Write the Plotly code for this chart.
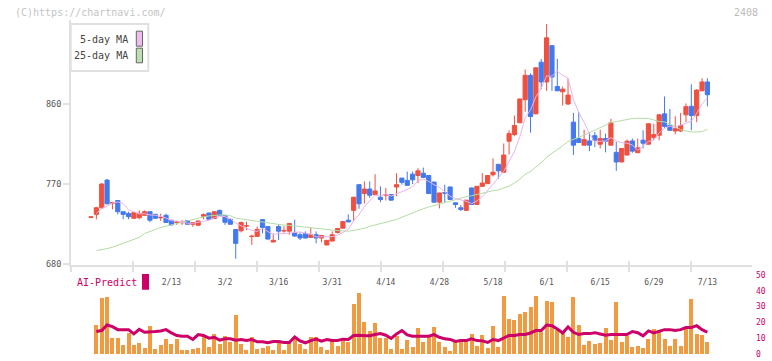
import plotly.graph_objects as go

# ---------------- data ----------------
open_ = [732.6, 735.9, 743.3, 774.4, 748.5, 751.5, 738.9, 737.0, 731.5, 732.2,
         734.8, 738.9, 735.9, 732.0, 734.8, 729.3, 726.8, 726.5, 728.9, 724.8,
         723.7, 733.7, 737.4, 731.1, 740.4, 734.8, 730.4, 718.9, 717.4, 722.8,
         710.9, 711.1, 730.0, 722.2, 704.8, 722.2, 717.2, 717.0, 715.6, 713.0,
         714.4, 710.0, 713.0, 709.3, 701.5, 705.9, 715.6, 720.4, 729.3, 740.4,
         769.3, 759.3, 764.4, 758.1, 755.2, 757.6, 758.1, 766.7, 776.7, 774.1,
         781.1, 779.6, 782.2, 779.6, 772.2, 749.6, 760.2, 766.7, 748.9, 743.3,
         740.4, 765.6, 747.0, 767.4, 770.4, 780.4, 792.2, 783.3, 818.1, 825.6,
         838.9, 864.8, 892.2, 848.9, 907.0, 884.8, 925.6, 879.6, 873.7, 860.0,
         839.6, 821.1, 813.7, 818.5, 824.4, 814.8, 821.1, 813.7, 805.6, 794.8,
         802.6, 818.5, 805.2, 819.3, 814.8, 822.2, 824.8, 848.9, 835.9, 829.6,
         829.6, 847.8, 857.4, 847.0, 874.8, 884.8]
high = [733.8, 744.4, 771.0, 775.6, 750.0, 752.0, 739.0, 738.9, 738.5, 740.4,
        740.4, 739.5, 736.5, 736.7, 736.7, 729.5, 728.5, 729.3, 729.3, 726.7,
        728.8, 737.0, 737.8, 739.3, 741.0, 735.0, 731.0, 719.0, 727.8, 727.8,
        713.0, 722.2, 730.0, 722.5, 714.4, 724.8, 722.6, 725.6, 730.0, 715.6,
        716.7, 721.1, 716.7, 712.3, 707.0, 716.7, 720.3, 728.0, 735.9, 755.2,
        769.3, 773.0, 773.0, 781.1, 767.4, 765.6, 758.5, 782.2, 776.7, 784.0,
        784.0, 787.8, 788.5, 780.0, 772.5, 760.0, 769.3, 767.0, 749.0, 746.3,
        752.0, 766.0, 767.7, 782.2, 780.0, 798.9, 792.5, 815.6, 830.4, 847.0,
        866.0, 898.9, 894.5, 901.0, 910.7, 950.0, 925.6, 910.7, 879.6, 888.5,
        850.0, 850.7, 831.1, 828.5, 828.5, 831.1, 826.7, 843.3, 817.4, 810.2,
        820.0, 821.1, 821.1, 830.4, 838.0, 837.8, 848.9, 868.5, 854.4, 846.3,
        850.0, 860.7, 882.2, 876.7, 888.9, 888.9]
low = [732.0, 730.4, 742.2, 747.0, 741.5, 735.9, 730.4, 730.4, 731.0, 730.4,
       734.0, 727.0, 731.0, 728.5, 726.7, 723.5, 724.1, 724.1, 724.5, 721.9,
       723.3, 730.4, 730.0, 730.7, 734.5, 724.1, 724.4, 686.0, 715.6, 718.1,
       701.5, 711.0, 714.4, 707.8, 704.8, 707.0, 715.2, 713.0, 710.7, 707.0,
       709.0, 709.3, 703.3, 704.4, 701.0, 705.5, 714.4, 720.0, 727.0, 728.5,
       742.2, 748.1, 754.4, 758.0, 749.6, 751.5, 751.5, 756.3, 769.3, 768.5,
       770.0, 771.1, 777.4, 759.0, 749.3, 742.6, 749.6, 752.0, 743.3, 739.6,
       740.0, 746.7, 746.7, 767.0, 770.0, 778.5, 775.9, 783.0, 803.4, 823.7,
       838.5, 851.5, 827.8, 848.5, 876.7, 874.8, 874.8, 874.8, 858.2, 858.9,
       802.6, 816.5, 813.5, 807.0, 811.5, 810.0, 805.6, 813.5, 784.8, 794.5,
       802.5, 805.2, 805.0, 810.0, 814.5, 819.3, 819.3, 833.3, 830.2, 825.9,
       828.5, 839.6, 830.4, 839.6, 874.8, 857.4]
close = [733.0, 743.3, 770.0, 747.8, 749.0, 738.9, 735.9, 733.3, 737.8, 737.0,
         738.9, 729.3, 731.5, 732.5, 726.7, 724.1, 727.2, 726.9, 724.8, 726.7,
         728.5, 735.6, 730.4, 738.9, 734.8, 727.0, 724.8, 703.3, 726.7, 723.2,
         711.3, 718.9, 721.1, 708.1, 706.7, 717.0, 717.6, 725.6, 711.5, 709.3,
         709.3, 713.0, 709.3, 712.2, 706.7, 713.0, 720.0, 727.8, 727.4, 755.2,
         747.8, 764.4, 757.4, 762.2, 752.6, 758.0, 751.9, 769.3, 771.9, 768.5,
         774.8, 784.8, 777.4, 759.3, 749.6, 760.0, 759.8, 752.6, 747.0, 741.5,
         751.9, 747.0, 767.4, 771.1, 779.6, 783.3, 784.8, 802.6, 826.7, 835.9,
         865.6, 892.2, 845.9, 900.7, 884.8, 934.4, 890.4, 874.8, 876.7, 870.0,
         813.7, 816.7, 820.0, 813.7, 819.3, 821.1, 818.1, 838.9, 794.8, 810.0,
         818.1, 807.0, 810.7, 815.9, 837.8, 825.6, 847.8, 834.8, 830.4, 832.2,
         835.9, 857.0, 847.0, 875.6, 884.8, 870.4]

ma5_head = [None, 737.0, 742.5, 745.0]
ma25_head = [None, 695.2, 695.9, 697.4, 698.9, 701.1, 702.6, 704.8, 707.0,
             710.0, 714.4, 716.3, 718.9, 721.1, 722.6, 724.1, 726.3, 727.8,
             728.9, 730.4, 731.5, 733.0, 734.1, 734.8]

volume = [None, 18.3, 35.2, 35.8, 10.0, 10.0, 5.8, 13.1, 5.8, 6.9,
          3.75, 17.7, 3.1, 5.8, 9.4, 6.5, 9.4, 2.5, 2.5, 3.1,
          3.75, 11.25, 4.4, 12.5, 6.25, 11.25, 7.5, 24.4, 6.25, 2.5,
          10.6, 3.1, 3.75, 5.0, 2.5, 6.9, 2.5, 6.9, 10.0, 6.25,
          3.1, 10.6, 10.6, 4.4, 2.5, 8.1, 5.0, 9.4, 7.5, 31.9,
          38.75, 20.0, 14.4, 19.4, 10.0, 10.0, 3.1, 11.25, 3.1, 8.75,
          4.4, 16.25, 7.5, 10.6, 16.9, 7.5, 4.4, 1.9, 7.5, 8.1,
          8.75, 12.5, 5.0, 11.9, 3.75, 17.5, 4.4, 36.9, 21.9, 21.25,
          25.6, 26.9, 30.0, 36.9, 13.75, 33.75, 33.1, 15.0, 14.4, 10.6,
          36.25, 18.1, 5.6, 8.1, 6.25, 6.9, 16.25, 8.75, 33.1, 7.5,
          11.25, 4.4, 5.0, 3.75, 9.4, 15.6, 13.75, 9.4, 5.0, 9.4,
          5.0, 15.6, 35.0, 12.5, 11.9, 7.5]

ai_predict = [None, 14.2, 14.8, 18.3, 17.3, 15.4, 15.4, 15.4, 12.7, 15.6,
              13.75, 14.2, 14.2, 14.6, 15.4, 13.3, 11.7, 11.25, 11.25, 9.2,
              12.3, 11.7, 10.0, 10.6, 8.75, 9.6, 9.6, 8.75, 9.2, 8.5,
              9.2, 7.7, 7.7, 7.1, 7.9, 7.9, 7.3, 7.3, 10.8, 8.3,
              7.1, 8.5, 9.4, 8.1, 9.2, 8.5, 8.5, 9.4, 9.2, 11.7,
              11.9, 11.5, 11.5, 12.3, 12.9, 11.9, 9.8, 12.7, 14.8, 12.1,
              11.25, 11.25, 11.25, 11.25, 12.3, 10.6, 9.6, 9.2, 7.9, 8.5,
              8.5, 9.6, 8.5, 8.3, 7.3, 9.2, 8.5, 10.2, 11.7, 11.7,
              12.3, 12.3, 13.3, 14.8, 14.8, 18.3, 17.9, 15.8, 13.3, 17.1,
              13.75, 12.3, 12.9, 12.9, 13.5, 12.7, 11.9, 12.3, 12.3, 12.3,
              12.3, 14.2, 13.5, 11.5, 14.6, 13.3, 14.2, 15.4, 15.4, 14.8,
              15.4, 16.7, 16.7, 17.9, 15.4, 13.75]

tick_labels = ["2/13", "3/2", "3/16", "3/31", "4/14", "4/28",
               "5/18", "6/1", "6/15", "6/29", "7/13"]
tick_pos = [16, 26, 36, 46, 56, 66, 76, 86, 96, 106, 116]
price_ticks = [680, 770, 860]
ai_ticks = [0, 10, 20, 30, 40, 50]

# ---------------- derived ----------------
n = len(close)
idx = list(range(1, n + 1))


def rolling(vals, w, head):
    out = list(head)
    for i in range(len(head), len(vals)):
        out.append(sum(vals[i - w + 1:i + 1]) / w)
    return out


ma5 = rolling(close, 5, ma5_head)
ma25 = rolling(close, 25, ma25_head)

# ---------------- layout geometry ----------------
W, H = 772, 361
L, R, T, B = 71, 20, 20, 3
PW, PH = W - L - R, H - T - B
step = 5.36          # px per trading day
first_px = 91        # px of first candle
xr = [1 - (first_px - L) / step, 1 + (W - R - first_px) / step]
grid_dtick = 62 / step
pscale = 0.9         # px per price unit
yr = [680 - (268 - 267) / pscale, 860 + (105 - T) / pscale]


def fx(px):
    return (px - L) / PW


def fy(py):
    return (H - B - py) / PH


FONT = "DejaVu Sans Mono"
RED, BLUE = "#ef5040", "#4479ee"
AXC = "#e0e0e0"

fig = go.Figure()

fig.add_trace(go.Scatter(x=idx, y=ma25, mode="lines", line=dict(color="#b4dca4", width=1),
                         xaxis="x", yaxis="y", hoverinfo="skip", showlegend=False))
fig.add_trace(go.Scatter(x=idx, y=ma5, mode="lines", line=dict(color="#ebb4eb", width=1),
                         xaxis="x", yaxis="y", hoverinfo="skip", showlegend=False))
fig.add_trace(go.Candlestick(
    x=idx, open=open_, high=high, low=low, close=close,
    increasing=dict(line=dict(color=RED, width=1), fillcolor=RED),
    decreasing=dict(line=dict(color=BLUE, width=1), fillcolor=BLUE),
    whiskerwidth=0, xaxis="x", yaxis="y", showlegend=False))
# helper trace so the overlay tick axis is drawn
fig.add_trace(go.Scatter(x=[idx[0]], y=[close[0]], mode="markers", marker=dict(opacity=0),
                         xaxis="x3", yaxis="y", hoverinfo="skip", showlegend=False))

fig.add_trace(go.Bar(x=idx, y=volume, width=0.75, marker=dict(color="#f29a40", line=dict(width=0)),
                     xaxis="x2", yaxis="y2", hoverinfo="skip", showlegend=False))
fig.add_trace(go.Scatter(x=idx, y=ai_predict, mode="lines", line=dict(color="#cc0066", width=3),
                         xaxis="x2", yaxis="y2", hoverinfo="skip", showlegend=False))

fig.update_layout(
    width=W, height=H, margin=dict(l=L, r=R, t=T, b=B),
    paper_bgcolor="white", plot_bgcolor="white",
    font=dict(family=FONT, size=9, color="#555"),
    boxgap=0.22, boxgroupgap=0, bargap=0,
    showlegend=False,
    xaxis=dict(domain=[0, 1], range=xr, anchor="y",
               showline=True, linecolor=AXC, linewidth=2,
               tickmode="array", tickvals=tick_pos, ticktext=tick_labels,
               ticks="", ticklabelstandoff=8,
               tickfont=dict(family=FONT, size=8, color="#555"),
               minor=dict(tickmode="linear", tick0=xr[0], dtick=grid_dtick, ticks="outside",
                          ticklen=5, tickwidth=2, tickcolor=AXC, showgrid=False),
               showgrid=False, zeroline=False, rangeslider=dict(visible=False), fixedrange=True),
    xaxis3=dict(overlaying="x", anchor="y", range=xr, tickmode="linear", tick0=xr[0],
                dtick=grid_dtick, ticks="inside", ticklen=4, tickwidth=2, tickcolor=AXC,
                showticklabels=False, showline=False, showgrid=False, zeroline=False),
    yaxis=dict(domain=[fy(268), fy(T)], range=yr, anchor="x",
               showline=True, linecolor=AXC, linewidth=2,
               tickvals=price_ticks, ticks="outside", ticklen=6, tickwidth=2, tickcolor=AXC,
               tickfont=dict(family=FONT, size=8.5, color="#555"),
               showgrid=False, zeroline=False, fixedrange=True),
    xaxis2=dict(domain=[0, 1], range=xr, anchor="y2", visible=False),
    yaxis2=dict(domain=[fy(358), fy(278)], range=[0, 50], anchor="x2", side="right",
                tickvals=ai_ticks, ticks="", showline=False, showgrid=False, zeroline=False,
                ticklabelstandoff=3,
                tickfont=dict(family=FONT, size=8, color="#cc0066")),
)

# legend box and swatches
shapes = [
    dict(type="rect", xref="paper", yref="paper", x0=fx(70.7), x1=fx(148.3), y0=fy(71.7), y1=fy(24),
         line=dict(color=AXC, width=2), fillcolor="white", layer="above"),
    dict(type="rect", xref="paper", yref="paper", x0=fx(136.3), x1=fx(142.5), y0=fy(46.5), y1=fy(31.3),
         line=dict(color="#666", width=1), fillcolor="#efbcef", layer="above"),
    dict(type="rect", xref="paper", yref="paper", x0=fx(136.3), x1=fx(142.5), y0=fy(63.3), y1=fy(48.5),
         line=dict(color="#666", width=1), fillcolor="#bde0b0", layer="above"),
    dict(type="rect", xref="paper", yref="paper", x0=fx(142), x1=fx(149), y0=fy(293), y1=fy(277),
         line=dict(width=0), fillcolor="#cc0066", layer="above"),
]
annotations = [
    dict(text="5-day MA", xref="paper", yref="paper", x=fx(130), y=fy(39.5), xanchor="right",
         yanchor="middle", showarrow=False, font=dict(family=FONT, size=10, color="#444")),
    dict(text="25-day MA", xref="paper", yref="paper", x=fx(130), y=fy(56), xanchor="right",
         yanchor="middle", showarrow=False, font=dict(family=FONT, size=10, color="#444")),
    dict(text="(C)https://chartnavi.com/", xref="paper", yref="paper", x=fx(13), y=fy(12),
         xanchor="left", yanchor="middle", showarrow=False,
         font=dict(family=FONT, size=10, color="#c4c4c4")),
    dict(text="2408", xref="paper", yref="paper", x=fx(732), y=fy(12), xanchor="left",
         yanchor="middle", showarrow=False, font=dict(family=FONT, size=10, color="#bbbbbb")),
    dict(text="AI-Predict", xref="paper", yref="paper", x=fx(75), y=fy(286), xanchor="left",
         yanchor="middle", showarrow=False, font=dict(family=FONT, size=10, color="#cc0066")),
]
fig.update_layout(shapes=shapes, annotations=annotations)

fig.write_html("out.html")
